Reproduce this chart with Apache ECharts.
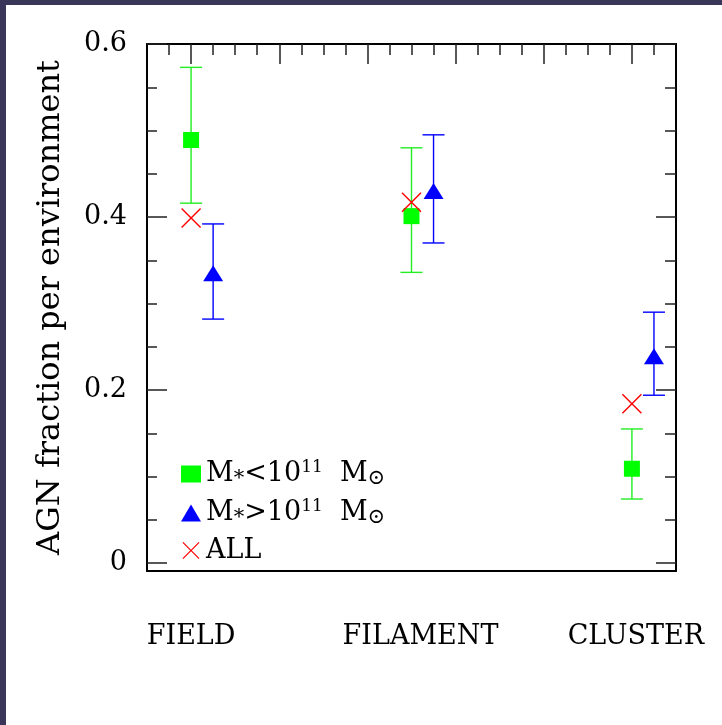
<!DOCTYPE html>
<html>
<head>
<meta charset="utf-8">
<script src="https://cdn.jsdelivr.net/npm/echarts@6/dist/echarts.min.js"></script>
<style>
  html, body { margin: 0; padding: 0; background: #fff; }
  #main { width: 722px; height: 725px; }
</style>
</head>
<body>
<div id="main"></div>
<script>
// environments and where they sit on the x scale
const envNames = ["FIELD", "FILAMENT", "CLUSTER"]
const envX = [0, 2.5, 5]
const highMassShift = 0.25

// M* < 1e11 (green squares)
const lowMass = [0.489, 0.401, 0.109]
const lowMassErrLo = [0.416, 0.336, 0.074]
const lowMassErrHi = [0.573, 0.480, 0.155]

// M* > 1e11 (blue triangles)
const highMass = [0.335, 0.430, 0.239]
const highMassErrLo = [0.282, 0.370, 0.194]
const highMassErrHi = [0.392, 0.495, 0.290]

// all galaxies (red crosses)
const allMass = [0.399, 0.417, 0.184]

// axis ticks
const yMajor = [0, 0.2, 0.4, 0.6]
const yMinor = [0.05, 0.1, 0.15, 0.25, 0.3, 0.35, 0.45, 0.5, 0.55]
const xMajor = [0, 1, 2, 3, 4, 5]
const xMinor = [-0.25, 0.25, 0.5, 0.75, 1.25, 1.5, 1.75, 2.25, 2.5, 2.75, 3.25, 3.5, 3.75, 4.25, 4.5, 4.75, 5.25]

const FONT = "DejaVu Serif"
const X_MIN = -0.5, X_MAX = 5.5
const Y_MIN = -0.0092, Y_MAX = 0.6
const crossPath = "path://M0,1L1,0L10,9L19,0L20,1L11,10L20,19L19,20L10,11L1,20L0,19L9,10Z"

function errorBars(xs, lo, hi) {
  return xs.map((x, i) => [x, lo[i], hi[i]])
}

function errorBarRenderer(color) {
  return function (params, api) {
    const x = api.value(0)
    const top = api.coord([x, api.value(2)])
    const bot = api.coord([x, api.value(1)])
    const half = 11
    const style = { stroke: color, lineWidth: 1.4 }
    return {
      type: "group",
      children: [
        { type: "line", shape: { x1: top[0], y1: top[1], x2: bot[0], y2: bot[1] }, style },
        { type: "line", shape: { x1: top[0] - half, y1: top[1], x2: top[0] + half, y2: top[1] }, style },
        { type: "line", shape: { x1: bot[0] - half, y1: bot[1], x2: bot[0] + half, y2: bot[1] }, style },
      ],
    }
  }
}

const hiddenLine = { show: false, onZero: false }
const frameLine = { show: true, onZero: false, lineStyle: { color: "#000", width: 2 } }
const tickStyle = { color: "#222", width: 1.5 }

function xAxisOf(extra) {
  return Object.assign({
    type: "value",
    min: X_MIN,
    max: X_MAX,
    axisLine: hiddenLine,
    axisTick: { show: false },
    axisLabel: { show: false },
    splitLine: { show: false },
  }, extra)
}

function yAxisOf(extra) {
  return Object.assign({
    type: "value",
    min: Y_MIN,
    max: Y_MAX,
    axisLine: hiddenLine,
    axisTick: { show: false },
    axisLabel: { show: false },
    splitLine: { show: false },
  }, extra)
}

const highX = envX.map((x) => x + highMassShift)

const legendLabels = {
  low: "{a|M}{s|*}{a|<10}{p|11}{a|  M}{s|⊙}",
  high: "{a|M}{s|*}{a|>10}{p|11}{a|  M}{s|⊙}",
  all: "{a|ALL}",
}

const chart = echarts.init(document.getElementById("main"))

const option = {
  backgroundColor: "#fff",
  animation: false,
  grid: { left: 147, right: 46, top: 44, bottom: 154 },
  graphic: [
    { type: "rect", shape: { x: 0, y: 0, width: 722, height: 5 }, style: { fill: "#3a3659" } },
    { type: "rect", shape: { x: 0, y: 0, width: 6, height: 725 }, style: { fill: "#3a3659" } },
  ],
  legend: {
    orient: "vertical",
    left: 176,
    top: 454,
    itemWidth: 20,
    itemHeight: 17,
    itemGap: 9,
    itemTextGap: 18,
    data: ["low", "high", "all"],
    formatter: (name) => legendLabels[name],
    textStyle: {
      rich: {
        a: { fontFamily: FONT, fontSize: 27, color: "#000", lineHeight: 30 },
        s: { fontFamily: FONT, fontSize: 21, color: "#000", verticalAlign: "bottom", lineHeight: 18 },
        p: { fontFamily: FONT, fontSize: 17, color: "#000", verticalAlign: "top", lineHeight: 22 },
      },
    },
  },
  xAxis: [
    xAxisOf({
      position: "bottom",
      axisLine: frameLine,
      axisLabel: {
        show: true,
        customValues: envX,
        margin: 52,
        color: "#000",
        formatter: (v) => {
          const i = envX.indexOf(v)
          return i < 0 ? "" : "{e" + i + "|" + envNames[i] + "}"
        },
        rich: {
          e0: { fontFamily: FONT, fontSize: 27, color: "#000" },
          e1: { fontFamily: FONT, fontSize: 27, color: "#000", padding: [0, 0, 0, 18] },
          e2: { fontFamily: FONT, fontSize: 27, color: "#000", padding: [0, 0, 0, 8] },
        },
      },
    }),
    xAxisOf({
      position: "top",
      axisLine: frameLine,
      axisTick: { show: true, inside: true, length: 20, customValues: xMajor, lineStyle: tickStyle },
    }),
    xAxisOf({
      position: "top",
      axisTick: { show: true, inside: true, length: 11, customValues: xMinor, lineStyle: tickStyle },
    }),
  ],
  yAxis: [
    yAxisOf({
      position: "left",
      axisLine: frameLine,
      axisTick: { show: true, inside: true, length: 20, customValues: yMajor, lineStyle: tickStyle },
      axisLabel: {
        show: true,
        customValues: yMajor,
        margin: 20,
        fontFamily: FONT,
        fontSize: 27,
        color: "#000",
        formatter: (v) => (v === 0 ? "0" : v.toFixed(1)),
      },
      name: "AGN fraction per environment",
      nameLocation: "middle",
      nameRotate: 90,
      nameGap: 80,
      nameTextStyle: { fontFamily: FONT, fontSize: 32, color: "#000" },
    }),
    yAxisOf({
      position: "left",
      axisTick: { show: true, inside: true, length: 10, customValues: yMinor, lineStyle: tickStyle },
    }),
    yAxisOf({
      position: "right",
      axisLine: frameLine,
      axisTick: { show: true, inside: true, length: 20, customValues: yMajor, lineStyle: tickStyle },
    }),
    yAxisOf({
      position: "right",
      axisTick: { show: true, inside: true, length: 11, customValues: yMinor, lineStyle: tickStyle },
    }),
  ],
  series: [
    {
      type: "custom",
      renderItem: errorBarRenderer("#22ee22"),
      data: errorBars(envX, lowMassErrLo, lowMassErrHi),
      z: 2,
    },
    {
      type: "custom",
      renderItem: errorBarRenderer("#0000ff"),
      data: errorBars(highX, highMassErrLo, highMassErrHi),
      z: 2,
    },
    {
      name: "low",
      type: "scatter",
      symbol: "rect",
      symbolSize: 16,
      itemStyle: { color: "#00ff00", opacity: 1 },
      data: envX.map((x, i) => [x, lowMass[i]]),
      z: 3,
    },
    {
      name: "high",
      type: "scatter",
      symbol: "triangle",
      symbolSize: [20, 16],
      itemStyle: { color: "#0000ff", opacity: 1 },
      data: highX.map((x, i) => [x, highMass[i]]),
      z: 3,
    },
    {
      name: "all",
      type: "scatter",
      symbol: crossPath,
      symbolSize: 20,
      itemStyle: { color: "#ff0000", opacity: 1 },
      data: envX.map((x, i) => [x, allMass[i]]),
      z: 4,
    },
  ],
}

chart.setOption(option)
window.addEventListener("resize", () => chart.resize())
</script>
</body>
</html>
